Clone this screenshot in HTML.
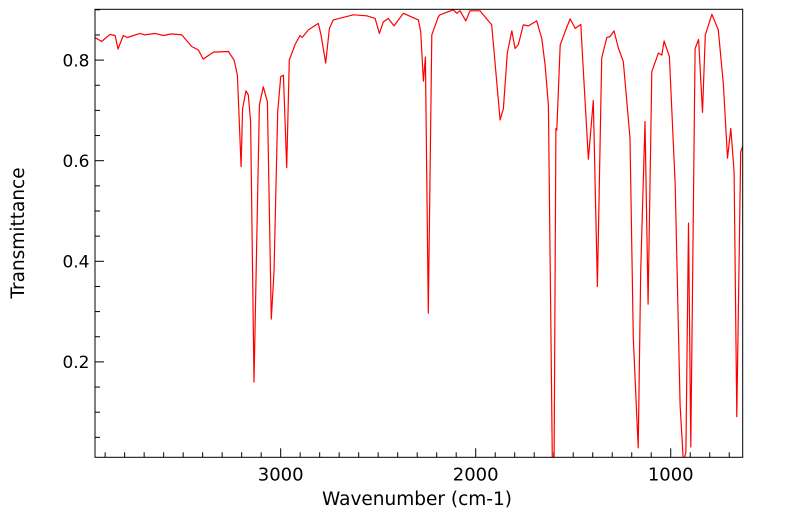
<!DOCTYPE html>
<html><head><meta charset="utf-8"><style>
html,body{margin:0;padding:0;background:#fff;}
svg{display:block;font-family:"DejaVu Sans","Liberation Sans",sans-serif;}
</style></head><body>
<svg id="chart" width="799" height="516" viewBox="0 0 799 516">
<defs><clipPath id="plotclip"><rect x="95" y="9.3" width="647.7" height="448"/></clipPath></defs>
<g id="axes"></g>
<path id="spectrum" fill="none" stroke="#ff0000" stroke-width="1.2" stroke-linejoin="round" clip-path="url(#plotclip)"/>
<rect x="95" y="9.3" width="647.7" height="448" fill="none" stroke="#000" stroke-width="1"/>
<text x="417" y="505" font-size="18.5" text-anchor="middle">Wavenumber (cm-1)</text>
<text transform="translate(24,233) rotate(-90)" font-size="18.5" text-anchor="middle">Transmittance</text>
</svg>
<script>
const wavenumbers = [3952,3918,3875,3849,3834,3807,3786,3721,3696,3644,3602,3559,3507,3456,3422,3397,3345,3268,3239,3222,3203,3195,3178,3166,3154,3137,3109,3089,3068,3048,3034,3015,3000,2986,2969,2956,2926,2901,2890,2858,2807,2793,2769,2750,2730,2627,2559,2516,2494,2474,2448,2419,2371,2294,2282,2268,2258,2243,2225,2192,2183,2115,2097,2080,2051,2029,1978,1961,1918,1875,1858,1838,1815,1798,1781,1756,1730,1687,1661,1644,1627,1614,1607,1598,1589,1584,1567,1542,1516,1490,1461,1448,1422,1397,1376,1354,1328,1311,1291,1268,1243,1209,1192,1167,1154,1132,1116,1097,1063,1046,1034,1007,977,952,935,922,909,897,875,857,837,823,789,756,730,709,692,675,661,641,631];
const transmittance = [0.845,0.837,0.851,0.849,0.822,0.849,0.845,0.853,0.850,0.853,0.849,0.852,0.850,0.827,0.820,0.802,0.816,0.817,0.800,0.770,0.588,0.704,0.739,0.731,0.678,0.160,0.711,0.747,0.717,0.285,0.379,0.697,0.767,0.770,0.586,0.800,0.831,0.849,0.845,0.860,0.873,0.850,0.794,0.863,0.880,0.890,0.888,0.883,0.853,0.876,0.883,0.868,0.893,0.880,0.856,0.758,0.806,0.297,0.850,0.886,0.890,0.900,0.893,0.898,0.878,0.898,0.898,0.890,0.870,0.681,0.704,0.814,0.858,0.823,0.831,0.870,0.868,0.878,0.843,0.790,0.710,0.248,0.005,0.005,0.664,0.661,0.830,0.856,0.882,0.863,0.871,0.777,0.603,0.720,0.350,0.804,0.845,0.847,0.858,0.823,0.797,0.645,0.247,0.029,0.379,0.678,0.315,0.777,0.814,0.810,0.838,0.807,0.552,0.114,0.000,0.021,0.476,0.031,0.823,0.841,0.696,0.850,0.891,0.860,0.751,0.605,0.664,0.578,0.091,0.618,0.628];
const xMajorTicks = [3000,2000,1000];
const xTickLabels = ["3000","2000","1000"];
const yMajorTicks = [0.2,0.4,0.6,0.8];
const yTickLabels = ["0.2","0.4","0.6","0.8"];

const X0=95,X1=742.7,W0=3952,W1=631;
const Y0=462.5,YS=503;
function xs(w){return X0+(W0-w)*(X1-X0)/(W0-W1);}
function ys(t){return Y0-t*YS;}
const NS="http://www.w3.org/2000/svg";
const axes=document.getElementById('axes');
function line(x1,y1,x2,y2,name){
  const l=document.createElementNS(NS,'line');
  l.setAttribute('x1',x1);l.setAttribute('y1',y1);l.setAttribute('x2',x2);l.setAttribute('y2',y2);
  l.setAttribute('stroke','#000');l.setAttribute('stroke-width','1');
  
  
  axes.appendChild(l);
}
function text(x,y,s,anchor,name,size){
  const t=document.createElementNS(NS,'text');
  t.setAttribute('x',x);t.setAttribute('y',y);t.setAttribute('font-size',size);t.setAttribute('text-anchor',anchor);
  t.textContent=s;
  
  
  axes.appendChild(t);
}
const YB=457.3;
for(let w=700;w<=3900;w+=100){
  const major=xMajorTicks.indexOf(w)>=0;
  line(xs(w),YB,xs(w),YB-(major?9:5),'x-tick');
}
xMajorTicks.forEach((w,i)=>text(xs(w),480.7,xTickLabels[i],'middle','x-tick-label','18'));
for(let k=1;k<=18;k++){
  const t=k*0.05;
  const major=yMajorTicks.some(v=>Math.abs(v-t)<1e-6);
  line(X0,ys(t),X0+(major?9:5),ys(t),'y-tick');
}
yMajorTicks.forEach((t,i)=>text(89.5,ys(t)+6.3,yTickLabels[i],'end','y-tick-label','17'));
let d='';
wavenumbers.forEach((w,i)=>{d+=(i?'L':'M')+xs(w).toFixed(1)+','+ys(transmittance[i]).toFixed(1);});
document.getElementById('spectrum').setAttribute('d',d);
</script>
</body></html>
